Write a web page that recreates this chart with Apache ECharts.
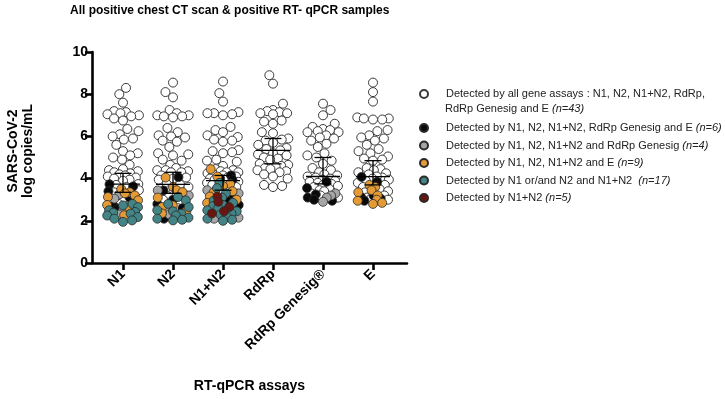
<!DOCTYPE html>
<html>
<head>
<meta charset="utf-8">
<script src="https://cdn.jsdelivr.net/npm/echarts@6/dist/echarts.min.js"></script>
<style>
    html, body { margin: 0; padding: 0; background: #fff; }
    #chart { width: 725px; height: 399px; }
</style>
</head>
<body>
<div id="chart"></div>
<script>
// assays on the x axis
var categories = ['N1', 'N2', 'N1+N2', 'RdRp', 'RdRp Genesig®', 'E'];

// detection groups (legend), in drawing order
var groupKeys = ['all', 'allButRdRp', 'genesig', 'withE', 'n1orN2', 'n1n2'];
var groupColors = ['#ffffff', '#0a0a0a', '#a6a6a6', '#e49b36', '#438486', '#6a1610'];
var legendTexts = [
    'Detected by all gene assays : N1, N2, N1+N2, RdRp,',
    'Detected by N1, N2, N1+N2, RdRp Genesig and E ',
    'Detected by N1, N2, N1+N2 and RdRp Genesig ',
    'Detected by N1, N2, N1+N2 and E ',
    'Detected by N1 or/and N2 and N1+N2  ',
    'Detected by N1+N2 '
];
var legendCounts = ['(n=43)', '(n=6)', '(n=4)', '(n=9)', '(n=17)', '(n=5)'];

// log copies/mL per assay column: [N1, N2, N1+N2, RdRp, Genesig, E]
var whiteVals = [
    [8.3, 8.0, 7.6, 7.2, 7.15, 7.1, 7.05, 7.0, 6.95, 6.85, 6.75, 6.35, 6.25, 6.1, 6.0, 5.9, 5.85, 5.6, 5.3, 5.2, 5.1,
        5.0, 4.9, 4.65, 4.45, 4.4, 4.35, 4.3, 4.25, 4.2, 4.15, 4.1, 4.05, 4.0, 3.95, 3.9, 3.74, 3.7, 3.6, 3.45, 3.35, 3.05, 2.8],
    [8.55, 8.1, 7.85, 7.25, 7.1, 7.0, 7.0, 6.95, 6.95, 6.9, 6.4, 6.2, 6.05, 6.0, 5.95, 5.8, 5.75, 5.5, 5.2, 5.15, 5.1,
        4.9, 4.85, 4.65, 4.5, 4.4, 4.4, 4.35, 4.3, 4.3, 4.15, 4.05, 4.0, 3.95, 3.74, 3.72, 3.6, 3.45, 3.3, 3.15, 3.0, 2.85, 2.6],
    [8.6, 8.05, 7.65, 7.15, 7.1, 7.1, 7.05, 7.0, 6.45, 6.3, 6.2, 6.05, 5.97, 5.85, 5.8, 5.75, 5.35, 5.3, 5.25, 5.2, 4.9,
        4.85, 4.8, 4.6, 4.45, 4.4, 4.35, 4.3, 4.3, 4.25, 4.2, 4.15, 4.1, 4.05, 4.0, 3.95, 3.95, 3.85, 3.8, 3.7, 3.6, 3.5, 3.4],
    [8.9, 8.5, 7.55, 7.25, 7.2, 7.15, 7.1, 7.1, 7.05, 6.75, 6.7, 6.6, 6.2, 6.15, 5.9, 5.85, 5.8, 5.7, 5.6, 5.45, 5.4,
        5.34, 5.2, 5.15, 5.1, 5.0, 4.95, 4.9, 4.7, 4.65, 4.6, 4.55, 4.5, 4.45, 4.4, 4.35, 4.3, 4.2, 4.1, 4.0, 3.7, 3.65, 3.6],
    [7.55, 7.25, 7.0, 6.6, 6.45, 6.35, 6.3, 6.25, 6.2, 6.2, 6.05, 5.95, 5.9, 5.8, 5.65, 5.5, 5.2, 5.1, 5.0, 4.85, 4.7,
        4.5, 4.4, 4.3, 4.2, 4.15, 4.1, 4.05, 4.0, 3.95, 3.9, 3.85, 3.8, 3.75, 3.7, 3.65, 3.6, 3.5, 3.45, 3.4, 3.3, 3.2, 3.1],
    [8.55, 8.1, 7.65, 6.9, 6.85, 6.85, 6.8, 6.8, 6.3, 6.25, 6.05, 5.95, 5.9, 5.8, 5.6, 5.4, 5.3, 5.2, 5.05, 4.95, 4.9,
        4.85, 4.5, 4.45, 4.4, 4.3, 4.25, 4.2, 4.05, 4.1, 4.0, 3.95, 3.9, 3.8, 3.7, 3.6, 3.5, 3.4, 3.35, 3.2, 3.1, 3.05, 3.0]
];
var blackVals = [
    [3.73, 3.63, 3.4, 3.1, 2.7, 2.57],
    [4.07, 3.44, 3.0, 2.8, 2.6, 2.1],
    [4.15, 4.0, 3.95, 3.15, 2.95, 2.75],
    [],
    [3.85, 3.55, 3.25, 3.1, 3.0, 2.95],
    [4.08, 3.85, 3.2, 3.12, 3.05, 2.95]
];
var greyVals = [
    [3.25, 3.05, 2.5, 2.3],
    [3.44, 3.2, 2.55, 2.3],
    [3.45, 3.3, 2.15, 2.1],
    [],
    [3.3, 3.2, 3.1, 2.9],
    []
];
var orangeVals = [
    [3.5, 3.35, 3.3, 3.2, 3.13, 2.97, 2.75, 2.65, 2.26],
    [4.05, 3.6, 3.45, 3.36, 3.1, 2.73, 2.65, 2.45, 2.35],
    [4.45, 4.1, 3.75, 3.65, 3.4, 3.35, 3.15, 3.0, 2.85],
    [],
    [],
    [3.7, 3.6, 3.45, 3.35, 3.2, 3.0, 2.95, 2.85, 2.8]
];
var tealVals = [
    [2.8, 2.73, 2.65, 2.5, 2.42, 2.38, 2.34, 2.25, 2.18, 2.1, 2.02, 1.95],
    [3.13, 2.97, 2.8, 2.65, 2.5, 2.45, 2.34, 2.25, 2.15, 2.1, 2.05, 2.02],
    [3.8, 3.55, 3.3, 3.1, 2.95, 2.85, 2.75, 2.7, 2.6, 2.5, 2.45, 2.35, 2.3, 2.2, 2.1, 2.05, 2.0],
    [],
    [],
    []
];
var redVals = [
    [],
    [],
    [3.15, 2.9, 2.65, 2.45, 2.35],
    [],
    [],
    []
];
var groupVals = [whiteVals, blackVals, greyVals, orangeVals, tealVals, redVals];

var FONT = '"Liberation Sans", Arial, Helvetica, sans-serif';
var W = 725;
var H = 399;
var grid = {left: 92, right: 318, top: 52, bottom: 136};
var xMin = -0.62;
var xMax = 5.68;
var pxPerX = (W - grid.left - grid.right) / (xMax - xMin);
var pxPerY = (H - grid.top - grid.bottom) / 10;

/**
 * find the offset closest to the centre where a dot keeps distance d
 * from every placed dot, within +-maxW
 */
function findSlot(placed, y, d, maxW, side) {
    var near = placed.filter(function (p) {
        return Math.abs(p.y - y) < d;
    });
    var cands = [0];
    near.forEach(function (p) {
        var dx = Math.sqrt(d * d - (p.y - y) * (p.y - y));
        cands.push(p.x - dx, p.x + dx);
    });
    cands.sort(function (a, b) {
        return Math.abs(a) - Math.abs(b) || side * (b - a);
    });
    for (var k = 0; k < cands.length; k++) {
        var c = cands[k];
        if (Math.abs(c) > maxW + 0.01) {
            continue;
        }
        var ok = near.every(function (p) {
            var ddx = p.x - c;
            var ddy = p.y - y;
            return ddx * ddx + ddy * ddy >= d * d - 0.01;
        });
        if (ok) {
            return c;
        }
    }
    return null;
}

/**
 * beeswarm layout limited in width: sets p.dx (pixels);
 * dots are allowed to overlap where the column is crowded
 *
 * @param {Object[]} points  {v: value}
 * @param {number}   d       preferred spacing between dot centres
 * @param {number}   maxW    largest offset from the column centre
 */
function swarm(points, d, maxW) {
    var order = points.map(function (p, i) {
        return i;
    }).sort(function (a, b) {
        return points[a].v - points[b].v;
    });
    var placed = [];
    order.forEach(function (i, n) {
        var y = points[i].v * pxPerY;
        var side = n % 2 ? 1 : -1;
        var x = null;
        for (var dd = d; x === null && dd > 1; dd *= 0.85) {
            x = findSlot(placed, y, dd, maxW, side);
        }
        x = x === null ? 0 : x;
        placed.push({x: x, y: y});
        points[i].dx = x;
    });
}

/**
 * median with its 95% CI (order statistics)
 *
 * @param  {number[]} vals values
 * @return {number[]} [median, low, high]
 */
function medianCI(vals) {
    var s = vals.slice().sort(function (a, b) {
        return a - b;
    });
    var n = s.length;
    var med = n % 2 ? s[(n - 1) / 2] : (s[n / 2 - 1] + s[n / 2]) / 2;
    var h = 0.98 * Math.sqrt(n);
    var lo = s[Math.max(0, Math.round(n / 2 - h) - 1)];
    var hi = s[Math.min(n - 1, Math.round(n / 2 + 1 + h) - 1)];
    return [med, lo, hi];
}

var seriesData = groupKeys.map(function () {
    return [];
});
var statData = [];
categories.forEach(function (cat, c) {
    var points = [];
    var all = [];
    groupVals.forEach(function (vals, g) {
        vals[c].forEach(function (v) {
            points.push({v: v, g: g});
            all.push(v);
        });
    });
    swarm(points, 9.2, 16);
    points.forEach(function (p) {
        seriesData[p.g].push([c + p.dx / pxPerX, p.v]);
    });
    statData.push([c].concat(medianCI(all)));
});

var series = groupKeys.map(function (key, g) {
    return {
        name: key,
        type: 'scatter',
        symbol: 'circle',
        symbolSize: 9,
        data: seriesData[g],
        itemStyle: {
            color: groupColors[g],
            borderColor: g === 0 ? '#3a3a3a' : '#2a2a2a',
            borderWidth: g === 0 ? 1 : 0.8,
            opacity: 1
        },
        emphasis: {disabled: true},
        z: 2
    };
});

series.push({
    type: 'custom',
    name: 'median',
    z: 5,
    silent: true,
    data: statData,
    renderItem: function (params, api) {
        var x = api.value(0);
        var mid = api.coord([x, api.value(1)]);
        var lo = api.coord([x, api.value(2)]);
        var hi = api.coord([x, api.value(3)]);
        var style = {stroke: '#000', lineWidth: 1.3};
        function seg(x1, y1, x2, y2) {
            return {type: 'line', shape: {x1: x1, y1: y1, x2: x2, y2: y2}, style: style};
        }
        return {
            type: 'group',
            children: [
                seg(mid[0] - 17, mid[1], mid[0] + 17, mid[1]),
                seg(lo[0], lo[1], hi[0], hi[1]),
                seg(hi[0] - 8.5, hi[1], hi[0] + 8.5, hi[1]),
                seg(lo[0] - 8.5, lo[1], lo[0] + 8.5, lo[1])
            ]
        };
    }
});

var legendBase = {
    orient: 'vertical',
    left: 414,
    itemWidth: 34,
    itemHeight: 8,
    itemGap: 3.5,
    selectedMode: false,
    textStyle: {
        fontFamily: FONT,
        fontSize: 11,
        color: '#222',
        lineHeight: 14,
        rich: {
            a: {fontFamily: FONT, fontSize: 11, color: '#222'},
            i: {fontFamily: FONT, fontSize: 11, color: '#222', fontStyle: 'italic'}
        }
    },
    formatter: function (name) {
        var g = groupKeys.indexOf(name);
        if (g === 0) {
            return '{a|' + legendTexts[0] + '}';
        }
        return '{a|' + legendTexts[g] + '}{i|' + legendCounts[g] + '}';
    }
};

var chart = echarts.init(document.getElementById('chart'));
chart.setOption({
    animation: false,
    backgroundColor: '#fff',
    title: {
        text: 'All positive chest CT scan & positive RT- qPCR samples',
        left: 70,
        top: 5,
        padding: 0,
        textStyle: {fontFamily: FONT, fontSize: 12, fontWeight: 'bold', color: '#000'}
    },
    grid: grid,
    legend: [
        echarts.util.merge({top: 82, data: [groupKeys[0]]}, legendBase, true),
        echarts.util.merge({top: 116, data: groupKeys.slice(1)}, legendBase, true)
    ],
    xAxis: {
        type: 'value',
        min: xMin,
        max: xMax,
        splitLine: {show: false},
        axisLine: {onZero: false, lineStyle: {color: '#000', width: 2.6}},
        axisTick: {
            show: true,
            customValues: [0, 1, 2, 3, 4, 5],
            length: 7,
            lineStyle: {color: '#000', width: 2.6}
        },
        axisLabel: {
            customValues: [0, 1, 2, 3, 4, 5],
            rotate: 45,
            margin: 9,
            fontFamily: FONT,
            fontSize: 14,
            fontWeight: 'bold',
            color: '#000',
            formatter: function (v) {
                return categories[Math.round(v)];
            }
        },
        name: 'RT-qPCR assays',
        nameLocation: 'middle',
        nameGap: 116,
        nameTextStyle: {fontFamily: FONT, fontSize: 14, fontWeight: 'bold', color: '#000'}
    },
    yAxis: {
        type: 'value',
        min: 0,
        max: 10,
        interval: 2,
        splitLine: {show: false},
        axisLine: {show: true, onZero: false, lineStyle: {color: '#000', width: 2.6}},
        axisTick: {show: true, length: 7, lineStyle: {color: '#000', width: 2.6}},
        axisLabel: {
            margin: 4,
            fontFamily: FONT,
            fontSize: 14,
            fontWeight: 'bold',
            color: '#000'
        }
    },
    graphic: [
        {
            type: 'text',
            x: 21,
            y: 151,
            rotation: Math.PI / 2,
            style: {
                text: 'SARS-CoV-2\nlog copies/mL',
                align: 'center',
                verticalAlign: 'middle',
                fontFamily: FONT,
                fontSize: 14,
                fontWeight: 'bold',
                lineHeight: 15,
                fill: '#000'
            }
        },
        {
            type: 'text',
            x: 445,
            y: 109,
            style: {
                text: '{a|RdRp Genesig and E }{i|' + legendCounts[0] + '}',
                verticalAlign: 'middle',
                rich: {
                    a: {fontFamily: FONT, fontSize: 11, fill: '#222'},
                    i: {fontFamily: FONT, fontSize: 11, fill: '#222', fontStyle: 'italic'}
                }
            }
        }
    ],
    series: series
});
</script>
</body>
</html>
